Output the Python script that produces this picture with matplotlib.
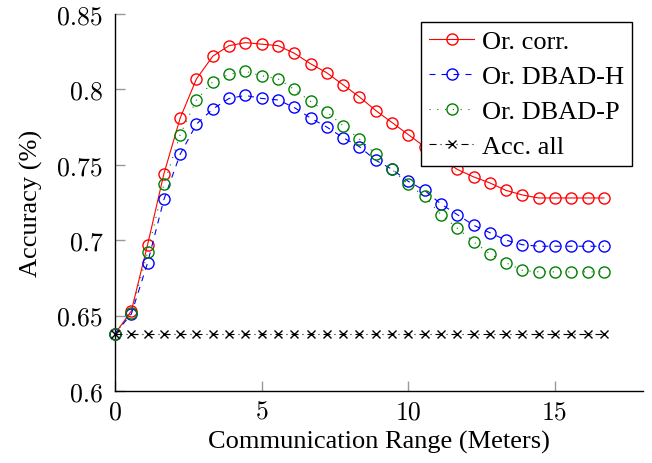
import matplotlib
matplotlib.use("Agg")
import matplotlib.pyplot as plt

plt.rcParams['font.family'] = ['Liberation Serif', 'DejaVu Serif']

n_points = 31
x_step = 5.0 / 9.0
x = [i * x_step for i in range(n_points)]

or_corr = [0.638, 0.653, 0.697, 0.744, 0.781, 0.807, 0.822, 0.829, 0.831, 0.830,
           0.829, 0.824, 0.817, 0.811, 0.803, 0.795, 0.786, 0.778, 0.770, 0.762,
           0.754, 0.747, 0.742, 0.738, 0.733, 0.730, 0.728, 0.728, 0.728, 0.728, 0.728]
or_dbad_h = [0.638, 0.651, 0.685, 0.727, 0.757, 0.777, 0.787, 0.794, 0.796, 0.794,
             0.793, 0.788, 0.781, 0.775, 0.768, 0.762, 0.753, 0.747, 0.739, 0.733,
             0.724, 0.717, 0.710, 0.705, 0.700, 0.697, 0.696, 0.696, 0.696, 0.696, 0.696]
or_dbad_p = [0.638, 0.652, 0.692, 0.737, 0.770, 0.793, 0.805, 0.810, 0.812, 0.809,
             0.807, 0.800, 0.792, 0.785, 0.776, 0.767, 0.757, 0.747, 0.737, 0.729,
             0.717, 0.708, 0.699, 0.691, 0.685, 0.680, 0.679, 0.679, 0.679, 0.679, 0.679]
acc_all = [0.638] * n_points

x_ticks = [0, 5, 10, 15]
x_tick_labels = ['0', '5', '10', '15']
y_ticks = [0.6, 0.65, 0.7, 0.75, 0.8, 0.85]
y_tick_labels = ['0.6', '0.65', '0.7', '0.75', '0.8', '0.85']

fig = plt.figure(figsize=(6.52, 4.64), dpi=100)
ax = fig.add_axes([115/652, 1 - 392/464, (643 - 115)/652, (392 - 15)/464])

ms = 8
lw = 0.8
ax.plot(x, or_corr, color='red', lw=lw, ls='-', marker='o', ms=ms, mfc='none', mew=1,
        label='Or. corr.', clip_on=False, zorder=3)
ax.plot(x, or_dbad_h, color='blue', lw=lw, ls=(0, (5.4, 5.4)), marker='o', ms=ms, mfc='none', mew=1,
        label='Or. DBAD-H', clip_on=False, zorder=3)
ax.plot(x, or_dbad_p, color='green', lw=lw, ls=(0, (1, 6)), marker='o', ms=ms, mfc='none', mew=1,
        label='Or. DBAD-P', clip_on=False, zorder=3)
ax.plot(x, acc_all, color='black', lw=lw, ls=(0, (6.3, 3.6, 0.9, 3.6)), marker='x', ms=6, mew=1,
        label='Acc. all', clip_on=False, zorder=3)

ax.set_xlim(0, 18)
ax.set_ylim(0.6, 0.85)
ax.set_xticks(x_ticks)
ax.set_xticklabels(x_tick_labels, fontfamily='cmr10', fontsize=18.5)
ax.set_yticks(y_ticks)
ax.set_yticklabels(y_tick_labels, fontfamily='cmr10', fontsize=18.5)
ax.spines['top'].set_visible(False)
ax.spines['right'].set_visible(False)
for s in ('left', 'bottom'):
    ax.spines[s].set_linewidth(1)
ax.tick_params(direction='in', length=7, width=1, color='#999999')
ax.tick_params(axis='y', pad=9)
ax.tick_params(axis='x', pad=6)
ax.set_xlabel('Communication Range (Meters)', fontsize=19, labelpad=5)
ax.set_ylabel('Accuracy (%)', fontsize=19, labelpad=10)

leg = ax.legend(loc='upper right', bbox_to_anchor=(632/652, 1 - 23/464), bbox_transform=fig.transFigure,
                fontsize=19, frameon=True, fancybox=False, edgecolor='black', framealpha=1,
                handlelength=1.7, handletextpad=0.3, borderpad=0.3, labelspacing=0.43,
                borderaxespad=0)
leg.get_frame().set_linewidth(1)

fig.savefig('out.png', dpi=100)
